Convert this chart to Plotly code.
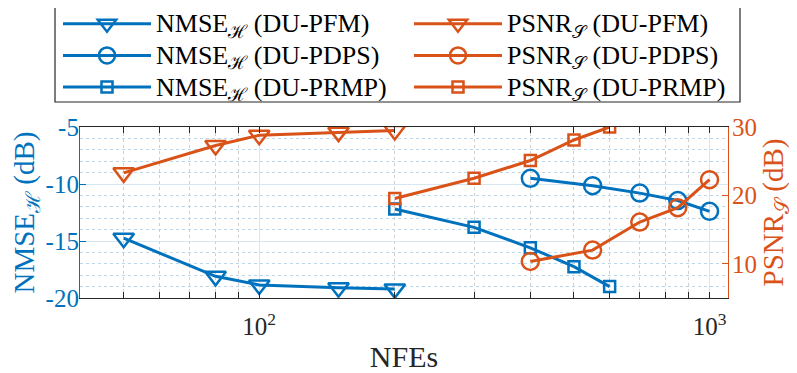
import plotly.graph_objects as go

# data
nfe_pfm = [50, 80, 100, 150, 200]
nfe_pdps = [400, 550, 700, 850, 1000]
nfe_prmp = [200, 300, 400, 500, 600]

nmse_pfm = [-14.75, -18.1, -18.85, -19.1, -19.2]
nmse_pdps = [-9.5, -10.15, -10.8, -11.45, -12.4]
nmse_prmp = [-12.2, -13.8, -15.6, -17.25, -19.0]

psnr_pfm = [23.3, 27.3, 28.8, 29.25, 29.5]
psnr_pdps = [10.35, 12.0, 16.1, 18.2, 22.3]
psnr_prmp = [19.55, 22.5, 25.1, 28.1, 30.0]

x_tickvals = [100, 1000]
x_ticktext = ['10<sup>2</sup>', '10<sup>3</sup>']
y1_tickvals = [-20, -15, -10, -5]
y1_ticktext = ['-20', '-15', '-10', '-5']
y2_tickvals = [10, 20, 30]
y2_ticktext = ['10', '20', '30']

blue = '#0072BD'
orange = '#D95319'
serif = 'Liberation Serif, DejaVu Serif, serif'

nmse_lbl = 'NMSE<sub>ℋ</sub>'
psnr_lbl = 'PSNR<sub>𝒮</sub>'


def big(s):
    return '<span style="font-size:26px">' + s + '</span>'


fig = go.Figure()

series = [
    (nfe_pfm, nmse_pfm, nmse_lbl + ' (DU-PFM)', blue, 'triangle-down-open', 18, 'y', 'legend'),
    (nfe_pdps, nmse_pdps, nmse_lbl + ' (DU-PDPS)', blue, 'circle-open', 17, 'y', 'legend'),
    (nfe_prmp, nmse_prmp, nmse_lbl + ' (DU-PRMP)', blue, 'square-open', 11, 'y', 'legend'),
    (nfe_pfm, psnr_pfm, psnr_lbl + ' (DU-PFM)', orange, 'triangle-down-open', 18, 'y2', 'legend2'),
    (nfe_pdps, psnr_pdps, psnr_lbl + ' (DU-PDPS)', orange, 'circle-open', 17, 'y2', 'legend2'),
    (nfe_prmp, psnr_prmp, psnr_lbl + ' (DU-PRMP)', orange, 'square-open', 11, 'y2', 'legend2'),
]

for xs, ys, name, col, sym, sz, ax, lg in series:
    fig.add_trace(go.Scatter(
        x=xs, y=ys, name=big(name), yaxis=ax, legend=lg, mode='lines+markers',
        line=dict(color=col, width=3),
        marker=dict(symbol=sym, size=sz, color=col, line=dict(color=col, width=2.5)),
    ))

# minor tick positions on the log axis
minor_x = [v * m for v in (10, 100) for m in range(2, 10)]

# the page body adds an 8px offset, so the figure is 8px smaller
# plot area in window pixels: x 80..728, y 127..298
def px_x(p):
    return (p - 80) / 648

def px_y(p):
    return (298 - p) / 171

leg_common = dict(
    xanchor='left', yanchor='top',
    borderwidth=0, bgcolor='rgba(0,0,0,0)',
    font=dict(family=serif, size=22, color='#000000'),
    itemwidth=88, tracegroupgap=0,
)

fig.update_layout(
    width=789, height=365,
    margin=dict(l=72, r=69, t=119, b=75, autoexpand=False),
    paper_bgcolor='white', plot_bgcolor='white',
    font=dict(family=serif, size=24, color='#262626'),
    showlegend=True,
    legend=dict(x=px_x(58), y=px_y(3), **leg_common),
    legend2=dict(x=px_x(409), y=px_y(3), **leg_common),
    xaxis=dict(
        type='log', range=[1.602, 3.041], automargin=False,
        tickmode='array', tickvals=x_tickvals, ticktext=x_ticktext,
        ticks='inside', ticklen=6, tickcolor='#262626',
        showline=True, linecolor='#262626', linewidth=1.2, mirror='allticks',
        showgrid=True, gridcolor='#e3e3e3', gridwidth=1,
        minor=dict(tickmode='array', tickvals=minor_x, ticks='inside', ticklen=3,
                   tickcolor='#262626', showgrid=True, gridcolor='#cfcfcf', griddash='dot'),
        tickfont=dict(size=25, color='#262626'), ticklabelstandoff=6,
        title=dict(text='NFEs', font=dict(size=30, color='#262626'), standoff=8),
        zeroline=False,
    ),
    yaxis=dict(
        range=[-20, -5], automargin=False,
        tickmode='array', tickvals=y1_tickvals, ticktext=y1_ticktext,
        ticks='inside', ticklen=6, tickcolor=blue,
        showline=True, linecolor=blue, linewidth=1.2,
        showgrid=True, gridcolor='#d6e6f2', gridwidth=1,
        minor=dict(dtick=1, showgrid=True, gridcolor='#bcd6ea', griddash='dot', ticks=''),
        tickfont=dict(size=25, color=blue), ticklabelstandoff=-5,
        title=dict(text='NMSE<sub>ℋ</sub> (dB)', font=dict(size=29, color=blue), standoff=4),
        zeroline=False,
    ),
    yaxis2=dict(
        overlaying='y', side='right', range=[5, 30], automargin=False,
        tickmode='array', tickvals=y2_tickvals, ticktext=y2_ticktext,
        ticks='inside', ticklen=6, tickcolor=orange,
        showline=True, linecolor=orange, linewidth=1.2,
        showgrid=False, zeroline=False,
        tickfont=dict(size=25, color=orange), ticklabelstandoff=-2,
        title=dict(text='PSNR<sub>𝒮</sub> (dB)', font=dict(size=29, color=orange), standoff=4),
    ),
)

# single frame around both legend columns
fig.add_shape(
    type='rect', xref='paper', yref='paper',
    x0=px_x(55), x1=px_x(740), y0=px_y(102), y1=px_y(1),
    line=dict(color='#262626', width=1.2), fillcolor='white', layer='below',
)

fig.write_html("out.html")
